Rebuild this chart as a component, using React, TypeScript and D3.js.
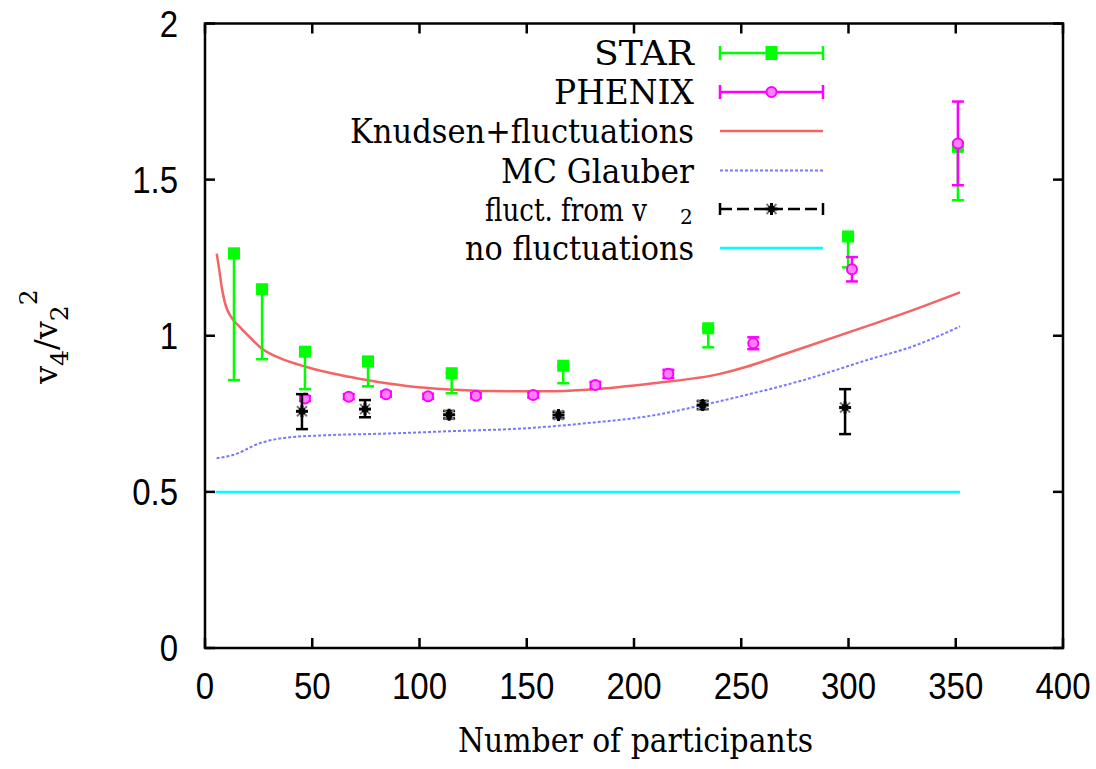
import React from "react";
import * as d3 from "d3";

// ---------- data ----------
const xTicks = [0, 50, 100, 150, 200, 250, 300, 350, 400];
const yTicks = [0, 0.5, 1, 1.5, 2];
const yTickLabels = ["0", "0.5", "1", "1.5", "2"];

const starN = [13.5, 26.6, 46.6, 76, 115, 167, 234.6, 299.8, 351];
const starV = [1.264, 1.149, 0.949, 0.918, 0.88, 0.904, 1.024, 1.318, 1.605];
const starLow = [0.858, 0.925, 0.829, 0.838, 0.816, 0.848, 0.963, 1.219, 1.434];
const starHigh = [1.264, 1.149, 0.949, 0.918, 0.88, 0.904, 1.024, 1.318, 1.605];

const phenixN = [46.6, 67, 84.4, 104, 126.3, 153, 182, 216, 255.6, 301.6, 351];
const phenixV = [0.799, 0.805, 0.813, 0.806, 0.808, 0.81, 0.842, 0.878, 0.976, 1.213, 1.616];
const phenixErr = [0.008, 0.008, 0.008, 0.008, 0.008, 0.008, 0.01, 0.013, 0.019, 0.039, 0.134];

const fluctN = [45.2, 74.6, 113.8, 164.8, 232, 298.4];
const fluctV = [0.758, 0.765, 0.747, 0.746, 0.778, 0.77];
const fluctLow = [0.701, 0.739, 0.735, 0.736, 0.765, 0.685];
const fluctHigh = [0.813, 0.794, 0.759, 0.756, 0.791, 0.829];

const knudsenN = [5.45, 6.67, 7.78, 9.0, 10.1, 11.65, 14.0, 16.3, 20.2, 26.1, 35, 47.4, 63, 75.4, 94, 114, 133, 156, 180, 209, 240, 250, 271, 310, 330, 352];
const knudsenV = [1.263, 1.21, 1.156, 1.114, 1.088, 1.066, 1.044, 1.028, 1.0, 0.961, 0.928, 0.9, 0.874, 0.858, 0.839, 0.828, 0.823, 0.822, 0.828, 0.848, 0.878, 0.896, 0.943, 1.034, 1.082, 1.139];

const glauberN = [5.4, 13, 26, 39.6, 55, 86, 117, 148, 178, 209, 232, 255.6, 279, 310, 330, 352];
const glauberV = [0.608, 0.618, 0.657, 0.675, 0.681, 0.687, 0.695, 0.703, 0.72, 0.745, 0.778, 0.816, 0.858, 0.925, 0.966, 1.03];

const noFluctN = [5, 352];
const noFluctV = [0.5, 0.5];

const legendLabels = ["STAR", "PHENIX", "Knudsen+fluctuations", "MC Glauber", "fluct. from v", "no fluctuations"];

// ---------- styles ----------
const GREEN = "#00ff00";
const MAGENTA = "#ff00ff";
const RED = "#f46464";
const BLUE = "#7878ff";
const CYAN = "#00ffff";
const SERIF = "'DejaVu Serif', serif";
const SANS = "'Liberation Sans', sans-serif";

const L = 205, R = 1063, T = 23.5, B = 648;
const x = d3.scaleLinear().domain([0, 400]).range([L, R]);
const y = d3.scaleLinear().domain([0, 2]).range([B, T]);

const line = d3
  .line<[number, number]>()
  .x((d) => x(d[0]))
  .y((d) => y(d[1]))
  .curve(d3.curveMonotoneX);

function ErrBar({ cx, y1, y2, color, cap = 6 }: any) {
  return (
    <g stroke={color} strokeWidth={2.5}>
      <line x1={cx} x2={cx} y1={y1} y2={y2} />
      <line x1={cx - cap} x2={cx + cap} y1={y1} y2={y1} />
      <line x1={cx - cap} x2={cx + cap} y1={y2} y2={y2} />
    </g>
  );
}

function ErrBarH({ y0, x1, x2, color }: any) {
  return (
    <g stroke={color} strokeWidth={2.5}>
      <line x1={x1} x2={x2} y1={y0} y2={y0} />
      <line x1={x1} x2={x1} y1={y0 - 7} y2={y0 + 7} />
      <line x1={x2} x2={x2} y1={y0 - 7} y2={y0 + 7} />
    </g>
  );
}

function Asterisk({ cx, cy }: any) {
  return (
    <g>
      <line x1={cx - 5} x2={cx + 5} y1={cy - 5} y2={cy + 5} stroke="#777" strokeWidth={2} />
      <line x1={cx - 5} x2={cx + 5} y1={cy + 5} y2={cy - 5} stroke="#777" strokeWidth={2} />
      <line x1={cx - 6} x2={cx + 6} y1={cy} y2={cy} stroke="#000" strokeWidth={3} />
      <line x1={cx} x2={cx} y1={cy - 6} y2={cy + 6} stroke="#000" strokeWidth={3} />
      <rect x={cx - 3} y={cy - 3} width={6} height={6} fill="#000" />
    </g>
  );
}

function PhenixMark({ cx, cy }: any) {
  return <circle cx={cx} cy={cy} r={5} fill="#ff80ff" stroke={MAGENTA} strokeWidth={2} />;
}

export default function App() {
  const legendTextEnd = 694;
  const lx1 = 720, lx2 = 823, lmid = 771.5;
  const rowBase = [65, 104, 143, 182.5, 221, 260];
  const rowLine = rowBase.map((b) => b - 12);
  const legendWidths = [100, 140, 344, 193, 162, 229];

  return (
    <svg
      width={1096}
      height={769}
      style={{ position: "absolute", left: 0, top: 0, background: "#fff" }}
    >
      <rect x={0} y={0} width={1096} height={769} fill="#fff" />

      {/* no fluctuations */}
      <path d={line(noFluctN.map((n, i) => [n, noFluctV[i]]) as any) || ""} fill="none" stroke={CYAN} strokeWidth={2.5} />
      {/* MC Glauber */}
      <path d={line(glauberN.map((n, i) => [n, glauberV[i]]) as any) || ""} fill="none" stroke={BLUE} strokeWidth={2} strokeDasharray="3,2" />
      {/* Knudsen */}
      <path d={line(knudsenN.map((n, i) => [n, knudsenV[i]]) as any) || ""} fill="none" stroke={RED} strokeWidth={2.5} />

      {/* STAR */}
      {starN.map((n, i) => (
        <ErrBar key={"se" + i} cx={x(n)} y1={y(starLow[i])} y2={y(starHigh[i])} color={GREEN} />
      ))}
      {starN.map((n, i) => (
        <rect key={"sm" + i} x={x(n) - 6} y={y(starV[i]) - 6} width={12} height={12} fill={GREEN} />
      ))}

      {/* PHENIX */}
      {phenixN.map((n, i) => (
        <g key={"p" + i}>
          <ErrBar cx={x(n)} y1={y(phenixV[i] - phenixErr[i])} y2={y(phenixV[i] + phenixErr[i])} color={MAGENTA} />
          <PhenixMark cx={x(n)} cy={y(phenixV[i])} />
        </g>
      ))}

      {/* fluct from v2 */}
      {fluctN.map((n, i) => (
        <g key={"f" + i}>
          <ErrBar cx={x(n)} y1={y(fluctLow[i])} y2={y(fluctHigh[i])} color="#000" />
          <Asterisk cx={x(n)} cy={y(fluctV[i])} />
        </g>
      ))}

      {/* frame */}
      <rect x={L} y={T} width={R - L} height={B - T} fill="none" stroke="#000" strokeWidth={2.5} />
      {xTicks.map((t) => (
        <g key={"xt" + t} stroke="#000" strokeWidth={2.5}>
          <line x1={x(t)} x2={x(t)} y1={B} y2={B - 10} />
          <line x1={x(t)} x2={x(t)} y1={T} y2={T + 10} />
        </g>
      ))}
      {yTicks.map((t) => (
        <g key={"yt" + t} stroke="#000" strokeWidth={2.5}>
          <line x1={L} x2={L + 10} y1={y(t)} y2={y(t)} />
          <line x1={R} x2={R - 10} y1={y(t)} y2={y(t)} />
        </g>
      ))}

      {/* tick labels */}
      {xTicks.map((t) => (
        <text
          key={"xl" + t}
          transform={`translate(${x(t)},699) scale(1,1.13)`}
          textAnchor="middle"
          fontFamily={SANS}
          fontSize={33}
          fill="#000"
        >
          {String(t)}
        </text>
      ))}
      {yTicks.map((t, i) => (
        <text
          key={"yl" + t}
          transform={`translate(178,${y(t) + 13}) scale(1,1.13)`}
          textAnchor="end"
          fontFamily={SANS}
          fontSize={33}
          fill="#000"
        >
          {yTickLabels[i]}
        </text>
      ))}

      {/* axis titles */}
      <text x={635.5} y={752} textAnchor="middle" fontFamily={SERIF} fontSize={33} textLength={355} lengthAdjust="spacingAndGlyphs" fill="#000">
        Number of participants
      </text>
      <text transform="translate(57,384) rotate(-90)" fontFamily={SERIF} fontSize={32} fill="#000">
        <tspan>v</tspan>
        <tspan dy={11} fontSize={25}>4</tspan>
        <tspan dy={-11}>/</tspan>
        <tspan>v</tspan>
        <tspan dy={11} fontSize={25}>2</tspan>
        <tspan dy={-31} fontSize={25}>2</tspan>
      </text>

      {/* legend */}
      {legendLabels.map((lab, i) =>
        i === 4 ? (
          <g key={"lg" + i}>
            <text x={485} y={rowBase[i]} fontFamily={SERIF} fontSize={31} textLength={legendWidths[i]} lengthAdjust="spacingAndGlyphs" fill="#000">
              {lab}
            </text>
            <text x={680} y={224} fontFamily={SERIF} fontSize={20} fill="#000">2</text>
          </g>
        ) : (
          <text
            key={"lg" + i}
            x={legendTextEnd}
            y={rowBase[i]}
            textAnchor="end"
            fontFamily={SERIF}
            fontSize={33}
            textLength={legendWidths[i]}
            lengthAdjust="spacingAndGlyphs"
            fill="#000"
          >
            {lab}
          </text>
        )
      )}
      {/* STAR sample */}
      <ErrBarH y0={rowLine[0]} x1={lx1} x2={lx2} color={GREEN} />
      <rect x={lmid - 6} y={rowLine[0] - 7} width={12} height={14} fill={GREEN} />
      {/* PHENIX sample */}
      <ErrBarH y0={rowLine[1]} x1={lx1} x2={lx2} color={MAGENTA} />
      <PhenixMark cx={lmid} cy={rowLine[1]} />
      {/* Knudsen sample */}
      <line x1={lx1} x2={lx2} y1={rowLine[2]} y2={rowLine[2]} stroke={RED} strokeWidth={2.5} />
      {/* Glauber sample */}
      <line x1={lx1} x2={lx2} y1={rowLine[3]} y2={rowLine[3]} stroke={BLUE} strokeWidth={2} strokeDasharray="3,2" />
      {/* fluct sample */}
      <line x1={lx1} x2={lx2} y1={rowLine[4]} y2={rowLine[4]} stroke="#000" strokeWidth={2.5} strokeDasharray="12,5" />
      <line x1={lx1} x2={lx1} y1={rowLine[4] - 6} y2={rowLine[4] + 6} stroke="#000" strokeWidth={2.5} />
      <line x1={lx2} x2={lx2} y1={rowLine[4] - 6} y2={rowLine[4] + 6} stroke="#000" strokeWidth={2.5} />
      <Asterisk cx={lmid} cy={rowLine[4]} />
      {/* no fluct sample */}
      <line x1={lx1} x2={lx2} y1={rowLine[5]} y2={rowLine[5]} stroke={CYAN} strokeWidth={2.5} />
    </svg>
  );
}
